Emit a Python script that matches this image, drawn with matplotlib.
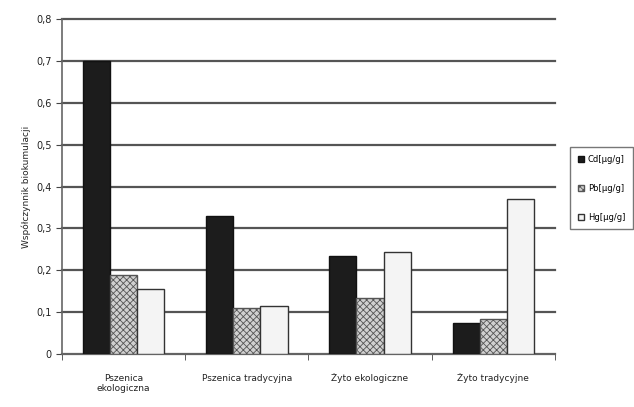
import numpy as np
import matplotlib
matplotlib.use("Agg")
import matplotlib.pyplot as plt

categories = ["Pszenica\nekologiczna", "Pszenica tradycyjna", "Żyto ekologiczne", "Żyto tradycyjne"]
series = ["Cd[µg/g]", "Pb[µg/g]", "Hg[µg/g]"]
cd = [0.70, 0.33, 0.235, 0.075]
pb = [0.19, 0.11, 0.135, 0.085]
hg = [0.155, 0.115, 0.245, 0.37]

plt.rcParams['font.family'] = ['DejaVu Sans']
plt.rcParams['hatch.linewidth'] = 0.6

fig = plt.figure(figsize=(6.34, 4.07), dpi=100)
ax = fig.add_axes([0.098, 0.130, 0.777, 0.823])

x = np.arange(len(categories))
w = 0.22
styles = [
    dict(facecolor="#1c1c1c", edgecolor="#111111", hatch=None),
    dict(facecolor="#d0d0d0", edgecolor="#555555", hatch="xxxxx"),
    dict(facecolor="#f4f4f4", edgecolor="#333333", hatch=None),
]
for i, (vals, name) in enumerate(zip([cd, pb, hg], series)):
    ax.bar(x + (i - 1) * w, vals, w, label=name, linewidth=1.0, zorder=3, **styles[i])

ax.set_xlim(-0.5, len(categories) - 0.5)
ax.set_ylim(0, 0.8)
ax.set_yticks(np.arange(0, 0.81, 0.1))
ax.set_yticklabels(["0"] + [f"{v:.1f}".replace(".", ",") for v in np.arange(0.1, 0.81, 0.1)],
                   fontsize=7, color="#222222")
ax.yaxis.grid(True, color="#555555", linewidth=1.6, zorder=0)
for gl in ax.get_ygridlines():
    gl.set_clip_on(False)
ax.set_axisbelow(True)

ax.set_xticks(x)
ax.set_xticklabels(categories, fontsize=6.5, color="#222222")
ax.tick_params(axis="x", length=0, pad=14)
ax.set_xticks(np.arange(-0.5, len(categories)), minor=True)
ax.tick_params(axis="x", which="minor", length=4, color="#444444")
ax.tick_params(axis="y", length=4, color="#444444")

for s in ["top", "right"]:
    ax.spines[s].set_visible(False)
for s in ["left", "bottom"]:
    ax.spines[s].set_color("#666666")
    ax.spines[s].set_linewidth(1.2)

ax.set_ylabel("Współczynnik biokumulacji", fontsize=6.5, color="#222222", labelpad=4)

fig.legend(loc="upper left", bbox_to_anchor=(0.893, 0.648), fontsize=6,
           frameon=True, fancybox=False, edgecolor="#555555", labelspacing=2.4,
           handlelength=0.8, handleheight=0.8, handletextpad=0.4, borderpad=0.9)

fig.savefig("out.png", dpi=100)
